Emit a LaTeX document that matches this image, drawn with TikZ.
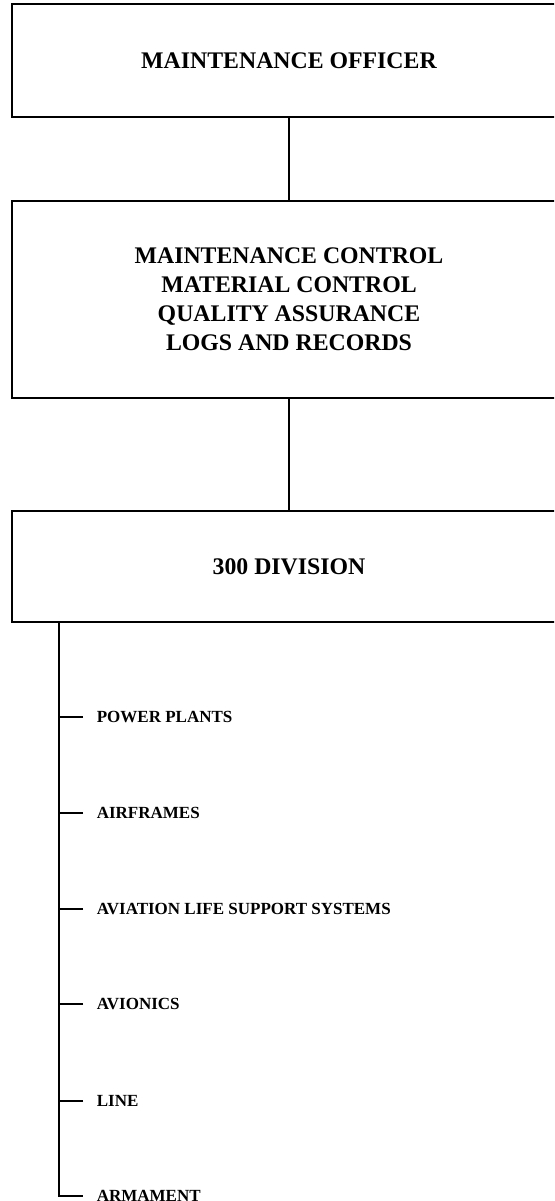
\documentclass[tikz,border=0pt]{standalone}
\usepackage{fontspec}
\setmainfont{Liberation Serif}
\usetikzlibrary{positioning}

\begin{document}
\begin{tikzpicture}[x=1pt,y=-1pt,line width=1.6pt,
  unit/.style={draw,minimum width=554pt,align=center,font=\fontsize{23.8}{29}\selectfont\bfseries},
  shop/.style={anchor=west,inner xsep=13pt,font=\fontsize{17}{20}\selectfont\bfseries}]
  \useasboundingbox (0,0) rectangle (554,1201);
  \clip (0,0) rectangle (554,1201);
  \node[unit,minimum height=113pt] (mo) at (289,60.5) {MAINTENANCE OFFICER};
  \node[unit,minimum height=197pt] (ctl) at (289,299.5) {MAINTENANCE CONTROL\\MATERIAL CONTROL\\QUALITY ASSURANCE\\LOGS AND RECORDS};
  \node[unit,minimum height=111pt] (div) at (289,566.5) {300 DIVISION};
  \draw (mo) -- (ctl);
  \draw (ctl) -- (div);
  \coordinate (trunk) at ([xshift=48pt]div.south west);
  \node[shop] (pp) at (83,717) {POWER PLANTS};
  \node[shop] (af) at (83,813) {AIRFRAMES};
  \node[shop] (als) at (83,909) {AVIATION LIFE SUPPORT SYSTEMS};
  \node[shop] (avi) at (83,1004) {AVIONICS};
  \node[shop] (ln) at (83,1101) {LINE};
  \node[shop] (arm) at (83,1196) {ARMAMENT};
  \draw (trunk) |- (arm.west);
  \draw (pp.west) -- (pp.west -| trunk);
  \draw (af.west) -- (af.west -| trunk);
  \draw (als.west) -- (als.west -| trunk);
  \draw (avi.west) -- (avi.west -| trunk);
  \draw (ln.west) -- (ln.west -| trunk);
\end{tikzpicture}
\end{document}
